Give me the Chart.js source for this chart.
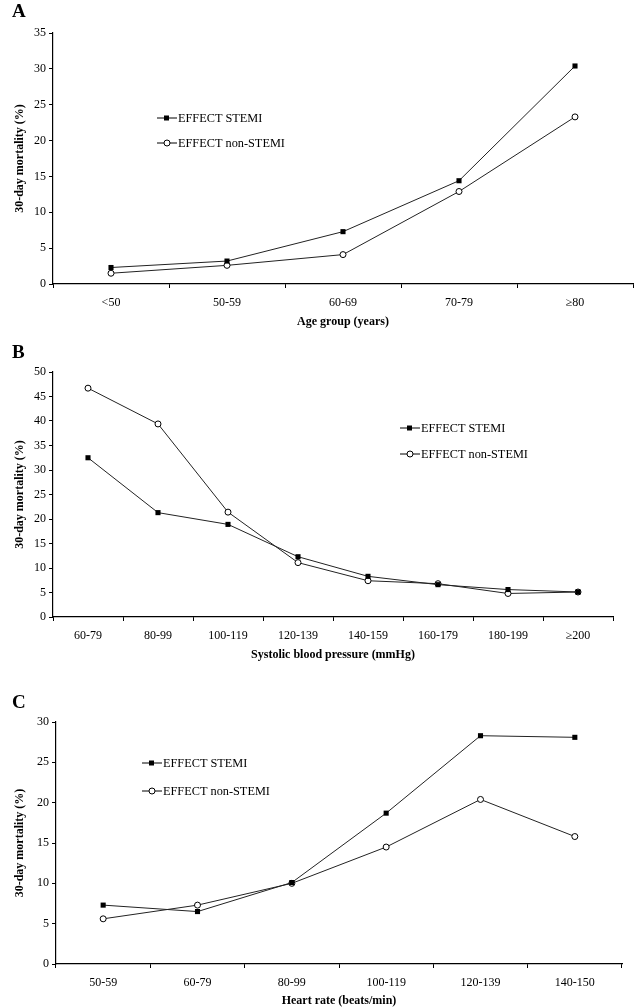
<!DOCTYPE html>
<html>
<head>
<meta charset="utf-8">
<script src="https://cdn.jsdelivr.net/npm/chart.js@4/dist/chart.umd.min.js"></script>
<style>
body { margin: 0; background: #fff; }
.panel { position: absolute; left: 0; width: 638px; }
.tag { position: absolute; font: bold 19px "Liberation Serif"; color: #000; }
</style>
</head>
<body>
<div class="panel" style="top:0;height:335px"><canvas id="chart-age"></canvas></div>
<div class="panel" style="top:335px;height:330px"><canvas id="chart-sbp"></canvas></div>
<div class="panel" style="top:665px;height:343px"><canvas id="chart-hr"></canvas></div>
<div class="tag" style="left:12px;top:0px">A</div>
<div class="tag" style="left:12px;top:341px">B</div>
<div class="tag" style="left:12px;top:691px">C</div>
<script>
const seriesNames = ['EFFECT STEMI', 'EFFECT non-STEMI'];

const ageGroups = ['<50', '50-59', '60-69', '70-79', '≥80'];
const ageStemi = [2.3, 3.2, 7.3, 14.4, 30.4];
const ageNonStemi = [1.5, 2.6, 4.1, 12.9, 23.3];

const sbpGroups = ['60-79', '80-99', '100-119', '120-139', '140-159', '160-179', '180-199', '≥200'];
const sbpStemi = [32.5, 21.3, 18.9, 12.3, 8.3, 6.6, 5.6, 5.1];
const sbpNonStemi = [46.7, 39.4, 21.4, 11.1, 7.4, 6.8, 4.8, 5.1];

const hrGroups = ['50-59', '60-79', '80-99', '100-119', '120-139', '140-150'];
const hrStemi = [7.3, 6.5, 10.1, 18.7, 28.3, 28.1];
const hrNonStemi = [5.6, 7.3, 10.0, 14.5, 20.4, 15.8];

const serif = '"Liberation Serif", "Times New Roman", serif';

// legend drawn inside the plot, like the original figure
const insetLegend = {
    id: 'insetLegend',
    afterDraw(chart, args, opts) {
        const ctx = chart.ctx;
        ctx.save();
        ctx.font = '12.3px ' + serif;
        ctx.textBaseline = 'middle';
        chart.data.datasets.forEach((ds, i) => {
            const y = opts.y + i * opts.gap;
            const x = opts.x;
            ctx.strokeStyle = '#000';
            ctx.lineWidth = 1;
            ctx.beginPath();
            ctx.moveTo(x, y);
            ctx.lineTo(x + 20, y);
            ctx.stroke();
            if (ds.pointStyle === 'rect') {
                ctx.fillStyle = '#000';
                ctx.fillRect(x + 7, y - 2.5, 5, 5);
            } else {
                ctx.fillStyle = '#fff';
                ctx.beginPath();
                ctx.arc(x + 10, y, 3, 0, Math.PI * 2);
                ctx.fill();
                ctx.stroke();
            }
            ctx.fillStyle = '#000';
            ctx.fillText(ds.label, x + 21, y + 1);
        });
        ctx.restore();
    }
};

function makeChart(id, labels, stemi, nonStemi, c) {
    new Chart(document.getElementById(id).getContext('2d'), {
        type: 'line',
        data: {
            labels: labels,
            datasets: [{
                label: seriesNames[0],
                data: stemi,
                borderColor: '#222',
                borderWidth: 1,
                pointStyle: 'rect',
                pointRadius: 3.6,
                pointBackgroundColor: '#000',
                pointBorderColor: '#000',
                pointBorderWidth: 0
            }, {
                label: seriesNames[1],
                data: nonStemi,
                borderColor: '#222',
                borderWidth: 1,
                pointStyle: 'circle',
                pointRadius: 3,
                pointBackgroundColor: '#fff',
                pointBorderColor: '#000',
                pointBorderWidth: 1
            }]
        },
        options: {
            responsive: true,
            maintainAspectRatio: false,
            animation: false,
            layout: { padding: { top: c.padTop, right: c.padRight, left: 0, bottom: 0 } },
            plugins: {
                legend: { display: false },
                tooltip: { enabled: false },
                insetLegend: c.legend
            },
            scales: {
                x: {
                    offset: true,
                    grid: { offset: true, drawOnChartArea: false, drawTicks: true, tickLength: 4, color: '#000' },
                    border: { display: true, color: '#000', width: 1.2 },
                    ticks: { color: '#000', font: { family: serif, size: 12 }, padding: 7.5, maxRotation: 0 },
                    title: { display: true, text: c.xTitle, color: '#000', font: { family: serif, size: 12, weight: 'bold' }, padding: { top: 0, bottom: c.titlePad } },
                    afterFit: s => { s.height = c.xHeight; }
                },
                y: {
                    min: 0,
                    max: c.yMax,
                    ticks: { stepSize: 5, color: '#000', font: { family: serif, size: 12 }, padding: 3 },
                    grid: { drawOnChartArea: false, drawTicks: true, tickLength: 4, color: '#000' },
                    border: { display: true, color: '#000', width: 1.2 },
                    title: { display: true, text: '30-day mortality (%)', color: '#000', font: { family: serif, size: 12, weight: 'bold' }, padding: { top: 13, bottom: 0 } },
                    afterFit: s => { s.width = c.yWidth; }
                }
            }
        },
        plugins: [insetLegend]
    });
}

makeChart('chart-age', ageGroups, ageStemi, ageNonStemi, {
    yMax: 35, padTop: 33, padRight: 1, yWidth: 53, xHeight: 51, titlePad: 6,
    xTitle: 'Age group (years)',
    legend: { x: 157, y: 118, gap: 25 }
});
makeChart('chart-sbp', sbpGroups, sbpStemi, sbpNonStemi, {
    yMax: 50, padTop: 37, padRight: 25, yWidth: 53, xHeight: 48, titlePad: 3,
    xTitle: 'Systolic blood pressure (mmHg)',
    legend: { x: 400, y: 93, gap: 26 }
});
makeChart('chart-hr', hrGroups, hrStemi, hrNonStemi, {
    yMax: 30, padTop: 57, padRight: 16, yWidth: 56, xHeight: 44, titlePad: 0,
    xTitle: 'Heart rate (beats/min)',
    legend: { x: 142, y: 98, gap: 28 }
});
</script>
</body>
</html>
